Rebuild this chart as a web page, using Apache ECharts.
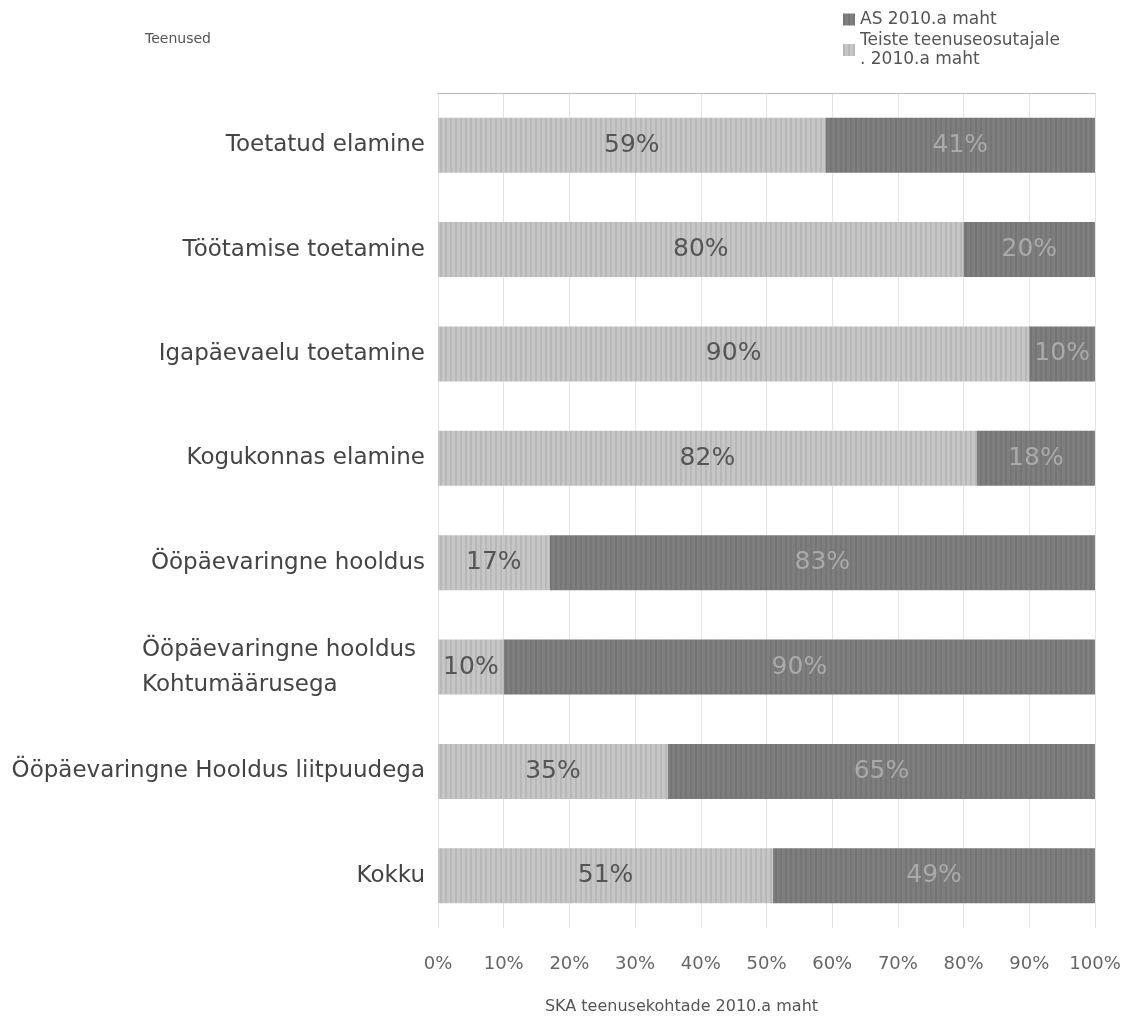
<!DOCTYPE html>
<html><head><meta charset="utf-8">
<script src="https://cdn.jsdelivr.net/npm/echarts@6/dist/echarts.min.js"></script>
<style>html,body{margin:0;padding:0;background:#fff}#c{width:1122px;height:1016px}</style>
</head><body><div id="c"></div>
<script>
const categories = ['Toetatud elamine','Töötamise toetamine','Igapäevaelu toetamine','Kogukonnas elamine','Ööpäevaringne hooldus','Ööpäevaringne hooldus\nKohtumäärusega','Ööpäevaringne Hooldus liitpuudega','Kokku'];
const otherShare = [59,80,90,82,17,10,35,51];
const asShare = [41,20,10,18,83,90,65,49];
const nameAS = 'AS 2010.a maht';
const nameOther = 'Teiste teenuseosutajale 2010.a maht';

const chart = echarts.init(document.getElementById('c'));
const font = 'DejaVu Sans, sans-serif';
const stripe = {symbol:'rect', symbolSize:1, dashArrayX:[2,3], dashArrayY:[1,0], color:'rgba(0,0,0,0.07)'};
chart.setOption({
  animation:false,
  aria:{enabled:false},
  textStyle:{fontFamily:font},
  grid:{left:438, right:27, top:93, bottom:88, outerBoundsMode:'none', containLabel:false},
  legend:{
    data:[nameAS, nameOther], orient:'vertical', left:838, top:5,
    itemWidth:12, itemHeight:12, itemGap:2, icon:'rect',
    textStyle:{fontSize:17, color:'#555', fontFamily:font, lineHeight:19},
    formatter: n => n === nameOther ? 'Teiste teenuseosutajale\n. 2010.a maht' : n
  },
  xAxis:[{
    type:'value', min:0, max:100, interval:10,
    axisLabel:{formatter:'{value}%', fontSize:18, color:'#666', margin:27},
    axisLine:{show:false}, axisTick:{show:false},
    splitLine:{lineStyle:{color:'#e4e4e4'}},
    name:'SKA teenusekohtade 2010.a maht', nameLocation:'middle', nameGap:71,
    nameTextStyle:{fontSize:16, color:'#555', padding:[0,170,0,0]}
  },{
    type:'value', min:0, max:100, position:'top',
    axisLabel:{show:false}, axisTick:{show:false}, splitLine:{show:false},
    axisLine:{show:true, lineStyle:{color:'#bbb'}}
  }],
  yAxis:{
    type:'category', data:categories, inverse:true,
    axisLine:{show:false}, axisTick:{show:false},
    axisLabel:{
      fontSize:23, color:'#444', margin:13, lineHeight:35,
      formatter: v => v.indexOf('\n') >= 0 ? v.split('\n').map(s => '{b|' + s + '}').join('\n') : v,
      rich:{b:{fontSize:23, color:'#444', width:283, align:'left', lineHeight:35, fontFamily:font}}
    },
    name:'Teenused', nameLocation:'start', nameGap:47,
    nameTextStyle:{fontSize:14, color:'#555', align:'left', padding:[0,0,0,-293]}
  },
  series:[{
    name:nameOther, type:'bar', stack:'s', data:otherShare, barWidth:55,
    itemStyle:{color:'#c6c6c6', decal:stripe},
    label:{show:true, position:'inside', formatter:'{c}%', fontSize:25, color:'#555'}
  },{
    name:nameAS, type:'bar', stack:'s', data:asShare, barWidth:55,
    itemStyle:{color:'#7e7e7e', decal:stripe},
    label:{show:true, position:'inside', formatter:'{c}%', fontSize:25, color:'#aaa'}
  }]
});
</script></body></html>
